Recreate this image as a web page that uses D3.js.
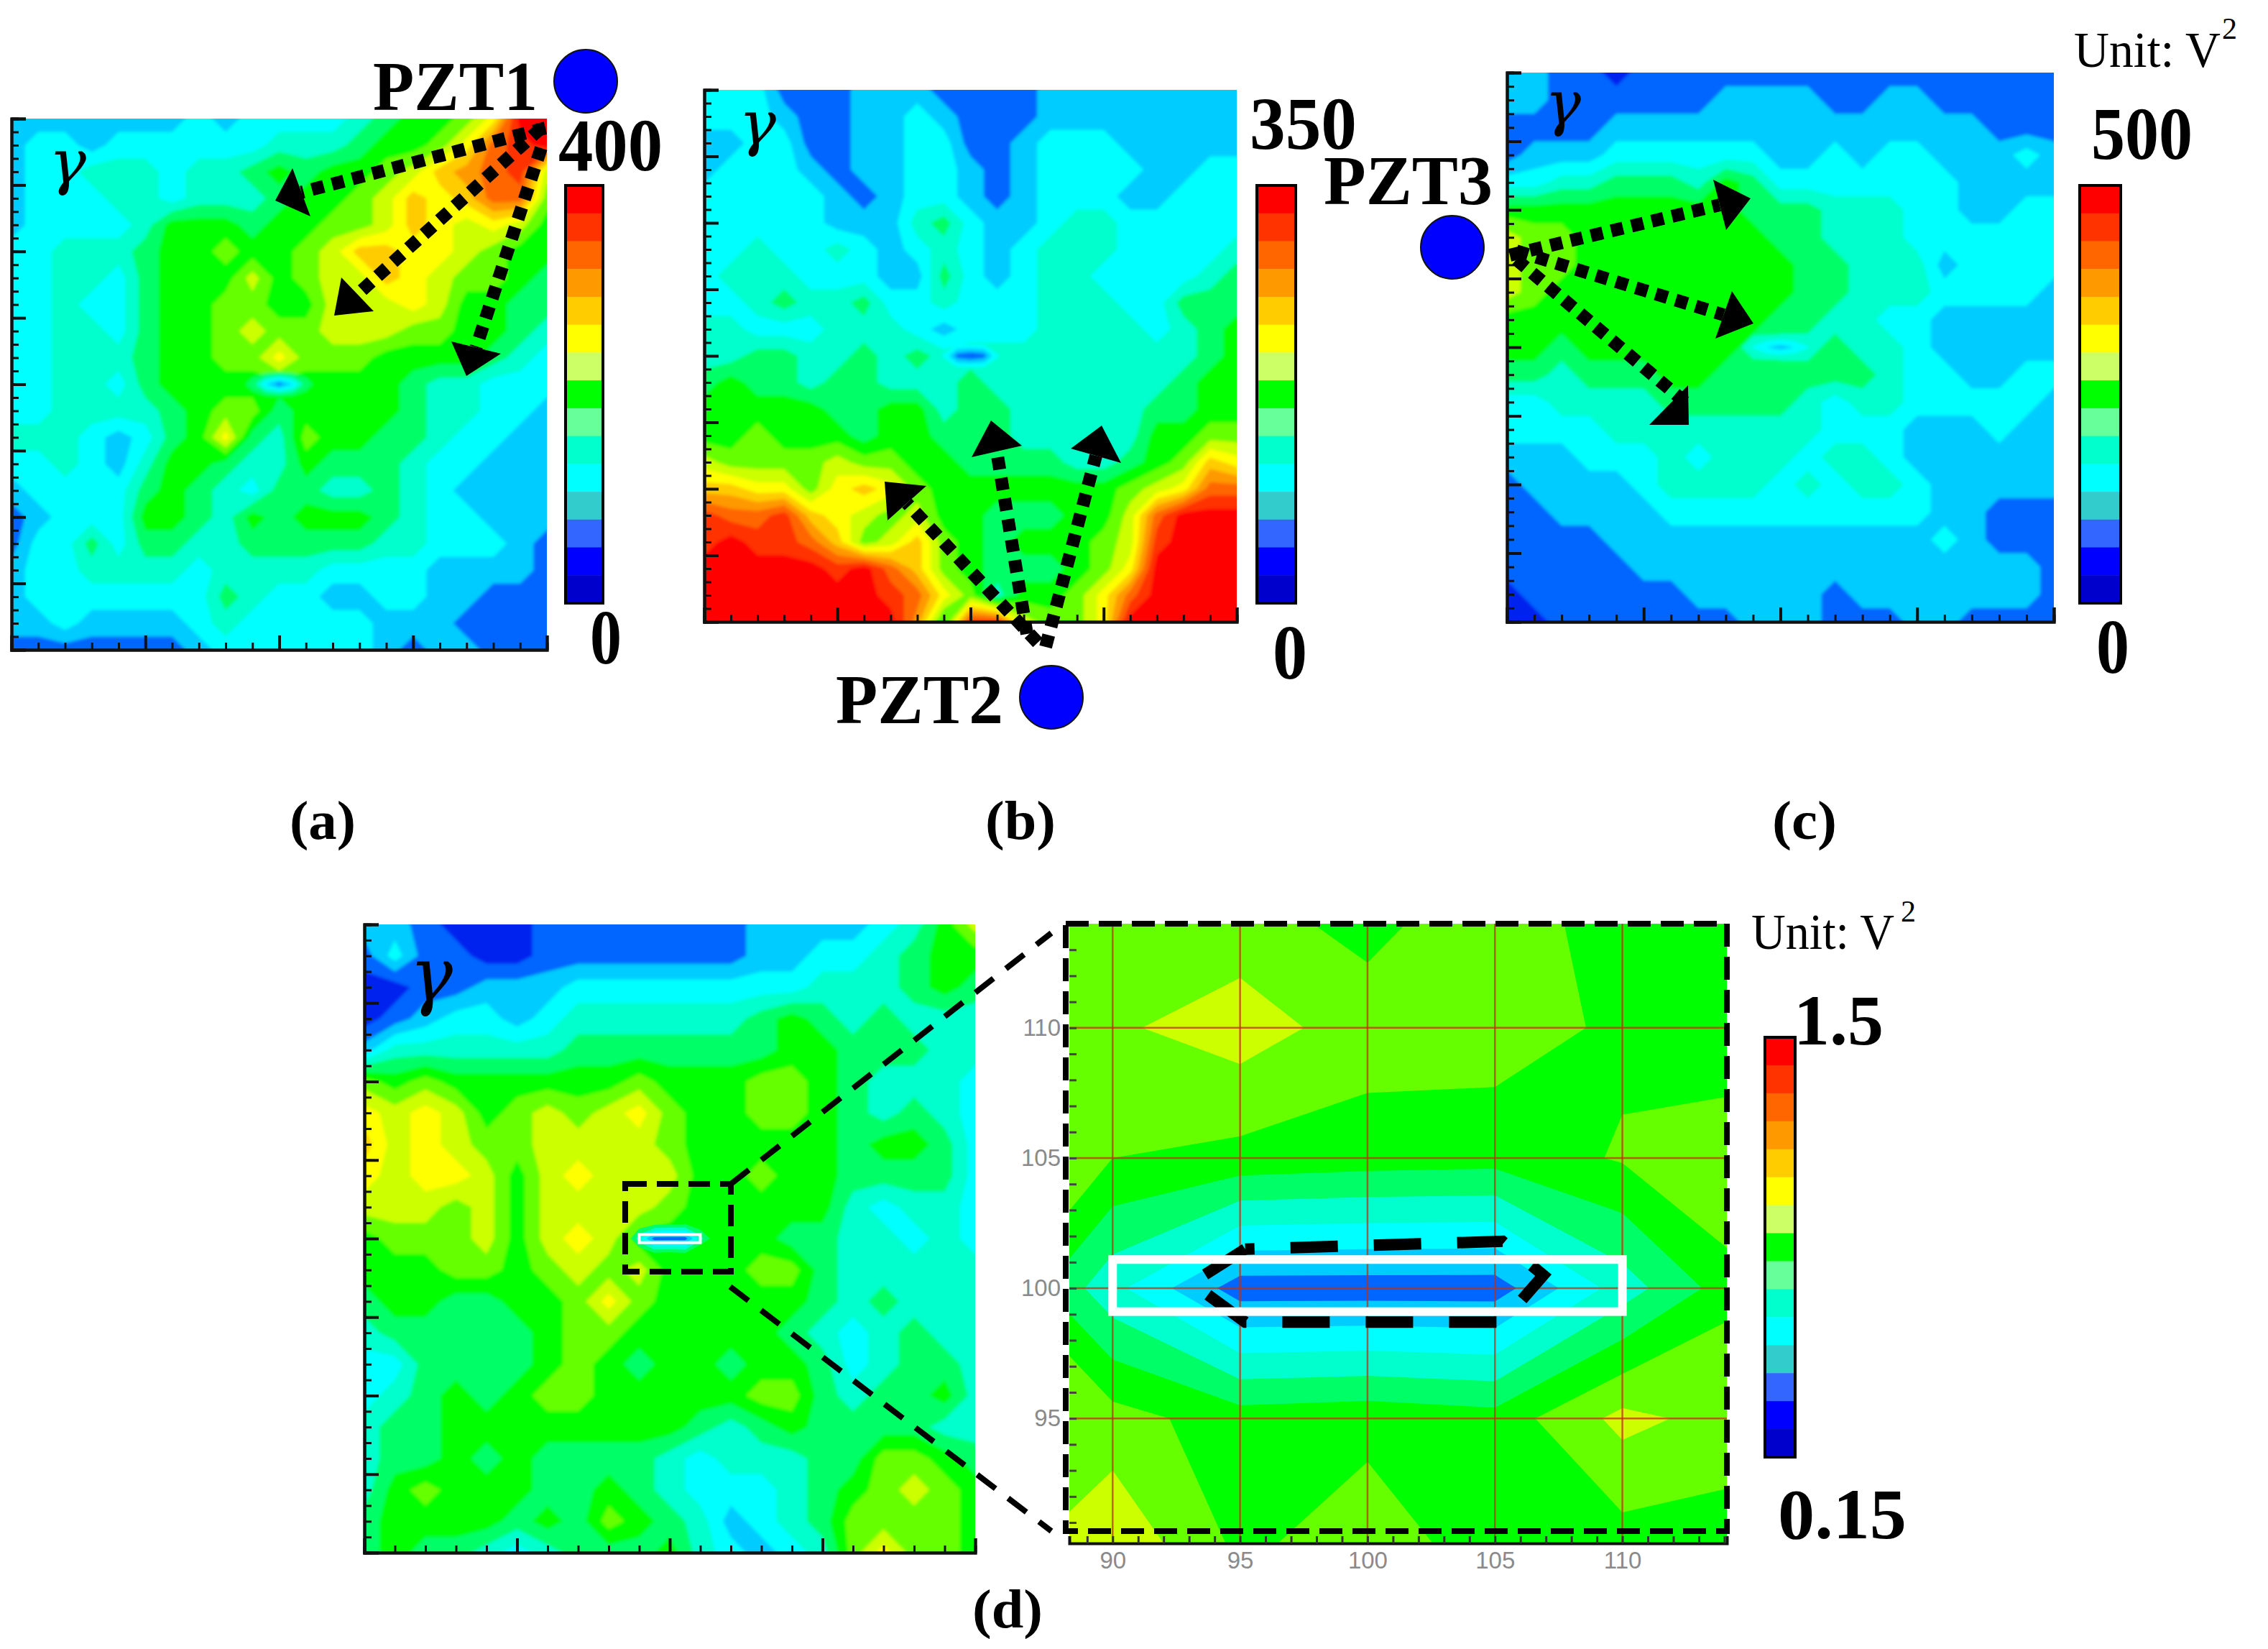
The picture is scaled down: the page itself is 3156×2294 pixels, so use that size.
<!DOCTYPE html>
<html>
<head>
<meta charset="utf-8">
<title>PZT power maps</title>
<script src="https://d3js.org/d3.v7.min.js"></script>
<style>
  body { margin: 0; background: #fff; }
  text { font-family: "Liberation Serif", serif; }
</style>
</head>
<body>
<script>
// contour band per node (0-14), nodes every 10 units, top row first
const fieldA = [
  [2,2,2,2,2,2,2,3,2,3,3,3,3,4,5,6,6,7,9,14,14],
  [2,3,3,2,3,3,3,3,3,3,4,4,4,5,6,6,7,9,12,13,14],
  [2,3,3,4,4,4,3,4,4,5,6,5,6,6,7,8,10,11,12,13,8],
  [2,3,3,3,4,4,3,4,4,4,5,6,6,7,8,10,9,10,12,12,7],
  [2,3,3,3,3,4,6,6,6,5,6,6,7,7,8,10,9,8,9,8,6],
  [3,3,4,4,4,5,6,6,7,6,6,7,8,10,10,9,9,8,7,6,6],
  [3,3,4,4,3,5,6,6,6,8,6,7,8,8,10,9,8,7,7,6,5],
  [3,3,4,3,3,5,6,6,7,7,6,6,8,8,8,9,8,6,6,5,5],
  [3,3,4,4,3,5,6,6,7,8,7,7,8,8,8,7,7,6,6,5,4],
  [3,3,4,4,4,5,6,6,7,7,9,7,7,7,6,6,6,6,5,4,3],
  [3,3,4,4,3,5,6,6,6,6,6,6,6,6,6,5,4,4,3,3,3],
  [3,3,4,4,4,4,5,6,7,7,5,6,6,6,6,5,4,4,3,3,2],
  [4,4,4,3,2,3,5,6,9,5,4,7,6,6,5,5,4,3,3,2,2],
  [3,3,4,3,2,4,6,6,5,4,4,6,5,5,5,4,3,3,2,2,2],
  [2,3,3,3,3,5,6,5,4,3,5,5,4,4,5,4,3,2,2,2,2],
  [1,2,3,3,3,6,6,5,4,6,5,6,6,6,5,4,3,3,2,2,2],
  [1,3,3,5,3,5,5,4,4,5,5,5,5,5,4,4,3,3,3,2,1],
  [2,3,3,4,4,4,4,3,4,4,4,4,3,3,3,3,2,2,2,2,1],
  [2,3,3,3,3,3,3,3,5,4,3,3,2,2,3,3,2,2,1,1,1],
  [2,2,3,2,2,2,2,3,4,3,3,3,3,3,2,2,2,1,1,1,1],
  [1,1,1,1,1,1,1,2,3,3,3,3,3,3,2,1,2,2,1,1,1]
];
const fieldB = [
  [3,3,3,1,1,1,2,2,2,1,1,1,1,2,2,2,2,2,2,2,2],
  [3,3,3,2,1,1,2,2,3,2,1,1,1,2,2,2,2,2,2,2,2],
  [2,2,3,3,1,1,2,2,3,3,1,1,2,3,3,3,2,2,2,2,2],
  [2,3,3,3,2,1,2,2,3,3,2,1,2,3,3,3,3,2,2,3,3],
  [3,3,3,3,3,2,1,2,3,3,2,1,2,3,3,3,2,2,3,3,3],
  [3,3,3,3,3,2,2,2,4,5,3,2,2,3,4,4,3,3,3,3,3],
  [3,3,4,3,3,4,3,2,3,4,3,2,3,4,4,4,3,3,3,3,4],
  [3,4,4,4,3,3,3,2,2,5,3,2,3,4,4,3,3,3,3,4,5],
  [3,3,4,5,4,4,5,3,3,4,3,3,3,4,4,4,3,3,5,5,5],
  [4,4,3,3,3,4,4,4,3,2,3,3,3,4,4,4,4,3,4,5,6],
  [4,4,5,5,4,4,5,4,5,4,4,4,4,4,4,4,4,4,4,5,6],
  [5,6,5,5,4,5,5,4,4,4,5,4,4,4,4,4,4,4,5,6,6],
  [6,6,6,6,6,5,5,6,6,4,5,5,4,4,4,4,4,5,5,6,6],
  [6,6,7,6,6,6,5,6,6,5,5,5,4,4,4,4,4,6,6,7,7],
  [8,7,7,7,7,8,7,7,6,6,5,5,5,5,4,4,5,6,7,10,9],
  [10,10,9,9,7,9,10,9,7,6,6,6,6,6,6,6,7,8,9,12,12],
  [13,12,12,13,10,9,8,7,8,6,6,5,5,5,6,6,8,12,14,14,14],
  [13,14,13,13,12,10,7,8,10,7,6,5,6,6,6,7,8,13,14,14,14],
  [14,14,14,14,14,13,14,12,10,7,6,5,5,5,6,7,9,14,14,14,14],
  [14,14,14,14,14,14,14,13,12,9,7,4,6,6,7,9,12,14,14,14,14],
  [14,14,14,14,14,14,14,14,11,6,13,13,8,7,7,9,14,14,14,14,14]
];
const fieldC = [
  [2,2,1,1,0,1,1,1,1,1,1,1,1,1,1,1,1,1,1,1,1],
  [2,2,1,1,1,1,1,1,2,2,2,2,1,1,2,2,1,1,1,1,1],
  [1,1,1,1,2,2,2,2,2,2,2,2,2,2,2,2,2,2,1,1,1],
  [1,2,2,2,3,3,3,3,3,3,2,2,3,2,3,3,2,2,2,3,2],
  [3,3,4,4,5,5,5,4,6,5,3,3,3,3,3,3,3,2,2,2,2],
  [6,6,6,6,6,6,6,6,6,5,5,5,4,4,4,3,3,2,2,3,3],
  [8,7,7,6,6,6,6,6,6,6,5,5,4,4,4,3,3,3,3,3,3],
  [8,7,7,6,6,6,6,6,6,6,6,5,5,4,4,4,2,3,3,3,3],
  [8,7,6,6,6,6,6,6,6,6,6,5,5,4,4,4,3,3,3,3,2],
  [6,6,6,6,6,6,6,6,6,6,5,5,4,4,3,3,2,2,2,2,2],
  [6,6,5,6,6,6,6,6,6,5,4,4,5,4,4,3,2,2,2,2,2],
  [5,5,4,5,5,5,6,6,5,5,5,5,5,5,4,3,3,2,2,3,3],
  [3,3,4,4,4,4,5,5,5,5,5,4,3,4,4,3,3,3,3,3,2],
  [3,3,3,3,4,4,4,4,4,4,4,4,3,3,3,2,2,2,3,2,2],
  [2,2,2,3,3,3,4,3,4,4,4,3,4,4,3,2,2,2,2,2,2],
  [1,2,2,2,2,3,4,4,4,4,3,4,3,4,4,3,2,2,2,2,2],
  [1,1,2,2,2,2,3,3,3,3,3,3,3,3,3,3,2,2,1,1,1],
  [1,1,1,1,2,2,2,2,2,2,2,2,2,2,2,2,3,2,1,1,1],
  [1,1,1,1,1,2,2,2,2,2,2,2,2,2,2,2,2,2,2,2,1],
  [0,1,1,1,1,1,1,2,2,2,2,2,1,2,2,2,2,2,2,2,1],
  [0,0,1,1,1,1,1,1,1,2,2,2,1,1,1,2,2,1,1,1,1]
];
const fieldD = [
  [2,2,1,0,0,0,1,1,1,1,1,1,1,2,2,2,2,3,4,6,8],
  [1,3,1,1,0,0,1,1,1,1,1,1,1,2,2,3,3,4,5,6,6],
  [0,0,1,1,2,2,2,3,3,3,3,3,3,3,3,4,4,4,5,6,5],
  [0,1,2,3,3,2,3,4,4,4,4,4,4,5,6,5,4,5,4,4,4],
  [2,4,4,4,4,4,4,5,5,5,5,5,5,5,6,6,5,5,5,4,4],
  [7,6,7,6,6,6,6,6,6,7,6,6,6,7,7,6,5,4,4,4,3],
  [9,8,9,8,6,7,8,7,8,9,7,6,6,7,7,6,5,4,5,4,3],
  [10,8,9,8,7,7,8,8,8,8,7,6,6,6,6,6,5,6,6,5,3],
  [9,8,9,9,8,6,8,9,8,8,8,6,6,7,6,6,5,5,5,5,3],
  [8,8,8,7,8,6,8,8,8,8,7,6,6,6,6,6,4,3,4,4,3],
  [6,7,7,7,8,6,8,9,8,6,6,6,6,6,5,5,4,4,3,4,3],
  [6,6,6,7,7,6,7,8,7,8,6,6,6,7,7,5,4,4,4,4,4],
  [5,6,6,5,5,6,6,7,9,7,6,6,6,6,6,5,4,5,4,4,4],
  [4,5,5,5,5,5,6,7,7,6,6,6,6,6,5,4,3,4,5,4,4],
  [3,3,5,5,5,5,6,7,6,5,6,6,5,6,6,5,3,4,5,5,4],
  [3,4,5,6,5,6,7,7,6,6,6,6,6,7,7,5,4,5,5,6,4],
  [4,5,5,6,6,6,6,6,6,6,6,5,4,5,6,5,5,5,5,4,4],
  [4,5,5,6,5,6,5,5,5,5,4,3,4,4,4,5,5,7,7,6,5],
  [4,6,7,6,6,6,5,5,6,5,4,3,3,3,4,5,6,7,8,7,6],
  [5,6,6,6,6,5,6,5,7,6,5,4,2,3,4,5,7,7,7,7,6],
  [5,6,5,5,4,3,4,5,5,5,6,4,3,2,3,4,7,9,7,7,6]
];

// nodes every 5 units round the crack, x 85..115
const crackA = [[6,6,6,6,6,6,6],[6,5,2.5,1,2.5,5,6],[6,6,6,6,6,6,6]];
const crackB = [[4,4,4,4,4,4,4],[4,3.4,1,0.6,1,3.4,4],[4,4,4,4,4,4,4]];
const crackC = [[4.7,4.7,4.7,4.7,4.7,4.7,4.7],[4.7,3.4,2.5,2,2.5,3.4,4.7],[4.7,4.7,4.7,4.7,4.7,4.7,4.7]];

// enlarged region of (d), x 85..115, y 115..90
const zoomField = [
  [7,7,6.7,6,7,6,6],
  [7,7.35,8,7,7,6.3,6],
  [7,6.5,6.2,6,5.9,6.6,7],
  [7,3.8,1,1,1,4,6.4],
  [7.5,6.9,6,6.2,5.9,7.8,7],
  [7,8.4,6.3,7.1,6,6,6]
];
const zoomTicks = [90, 95, 100, 105, 110];

const bandColors = ['#0022ee','#0066ff','#00ccff','#00ffff','#00ffcc','#00ff66','#00ff00','#66ff00',
                    '#ccff00','#ffff00','#ffcc00','#ff9900','#ff6600','#ff3300','#ff0000'];
const legendColors = ['#ff0000','#ff3300','#ff6600','#ff9900','#ffcc00','#ffff00','#ccff66','#00ff00',
                      '#66ff99','#00ffcc','#00ffff','#33cccc','#3366ff','#0000ff','#0000cc'];

const svg = d3.select('body').append('svg')
              .attr('width', 3156)
              .attr('height', 2294);

// the maps are a bit soft in the figure
svg.append('filter').attr('id', 'soft')
   .attr('x', 0).attr('y', 0).attr('width', 1).attr('height', 1)
   .append('feGaussianBlur').attr('stdDeviation', 2);

let clipCount = 0;

// fill one grid of bands, lowest first, each contour lies over the one before
function drawBands(g, values, x, y, xStart, yStart, step) {
    const rows = values.length;
    const cols = values[0].length;
    const toPlot = d3.geoTransform({
        point(px, py) {
            this.stream.point(x(xStart + (px - 0.5) * step), y(yStart - (py - 0.5) * step));
        }
    });
    const contours = d3.contours().size([cols, rows]).thresholds(d3.range(-1.5, 14, 1));
    g.selectAll(null)
     .data(contours(values.flat()))
     .enter()
     .append('path')
     .attr('d', d3.geoPath(toPlot))
     .attr('fill', d => bandColors[Math.max(0, d.value + 0.5)]);
}

// crack patch, only paints what lies below the surrounding band
function drawCrack(g, values, x, y, yStart, top) {
    const rows = values.length;
    const cols = values[0].length;
    const toPlot = d3.geoTransform({
        point(px, py) {
            this.stream.point(x(85 + (px - 0.5) * 5), y(yStart - (py - 0.5) * 5));
        }
    });
    const levels = d3.range(-top, 1, 1);
    const contours = d3.contours().size([cols, rows]).thresholds(levels);
    g.selectAll(null)
     .data(contours(values.flat().map(v => -v)))
     .enter()
     .append('path')
     .attr('d', d3.geoPath(toPlot))
     .attr('fill', d => bandColors[Math.max(0, -d.value - 0.5)]);
}

// one map with its inner ticks
function drawPanel(values, crack, crackTop, left, right, top, bottom) {
    const x = d3.scaleLinear().domain([0, 200]).range([left, right]);
    const y = d3.scaleLinear().domain([0, 200]).range([bottom, top]);
    const id = 'clip' + (clipCount++);

    svg.append('clipPath').attr('id', id)
       .append('rect')
       .attr('x', left).attr('y', top)
       .attr('width', right - left).attr('height', bottom - top);

    const g = svg.append('g').attr('clip-path', 'url(#' + id + ')')
                 .append('g').attr('filter', 'url(#soft)');
    drawBands(g, values, x, y, 0, 200, 10);
    if (crack) drawCrack(g, crack, x, y, 105, crackTop);

    // small ticks first, long ones above
    addTicks(d3.axisLeft(y).tickValues(d3.range(0, 201, 5)), left, 0, 10);
    addTicks(d3.axisLeft(y).tickValues(d3.range(0, 201, 25)), left, 0, 20);
    addTicks(d3.axisBottom(x).tickValues(d3.range(0, 201, 10)), 0, bottom, 10);
    addTicks(d3.axisBottom(x).tickValues(d3.range(0, 201, 50)), 0, bottom, 20);
    return {x, y};
}

function addTicks(axis, tx, ty, size) {
    const a = svg.append('g')
                 .attr('transform', 'translate(' + tx + ',' + ty + ')')
                 .call(axis.tickSize(-size).tickFormat(''));
    a.selectAll('line').attr('stroke', '#111').attr('stroke-width', size > 10 ? 4 : 3);
    a.select('.domain').attr('stroke', '#111').attr('stroke-width', 4);
}

function colorBar(left, right, top, bottom) {
    const band = d3.scaleBand().domain(d3.range(legendColors.length)).range([top, bottom]);
    svg.append('g').selectAll('rect')
       .data(legendColors)
       .enter()
       .append('rect')
       .attr('x', left)
       .attr('y', (d, i) => band(i))
       .attr('width', right - left)
       .attr('height', band.bandwidth() + 0.5)
       .attr('fill', d => d);
    svg.append('rect')
       .attr('x', left).attr('y', top)
       .attr('width', right - left).attr('height', bottom - top)
       .attr('fill', 'none')
       .attr('stroke', '#000')
       .attr('stroke-width', 4);
}

// serif label squeezed to the width it has in the figure
function label(text, x, y, size, width, weight) {
    svg.append('text')
       .attr('x', x)
       .attr('y', y)
       .attr('textLength', width)
       .attr('lengthAdjust', 'spacingAndGlyphs')
       .style('font-size', size + 'px')
       .style('font-weight', weight || 'bold')
       .text(text);
}

function gamma(x, y, size, width) {
    svg.append('text')
       .attr('x', x)
       .attr('y', y)
       .attr('textLength', width)
       .attr('lengthAdjust', 'spacingAndGlyphs')
       .style('font-family', '"DejaVu Serif", serif')
       .style('font-size', size + 'px')
       .style('font-style', 'italic')
       .text('γ');
}

function sensor(cx, cy) {
    svg.append('circle')
       .attr('cx', cx).attr('cy', cy).attr('r', 44)
       .attr('fill', '#0000ff')
       .attr('stroke', '#111')
       .attr('stroke-width', 2);
}

// dotted shaft up to the base of a solid head
function arrow(x0, y0, head) {
    svg.append('line')
       .attr('x1', x0).attr('y1', y0)
       .attr('x2', (head[1][0] + head[2][0]) / 2)
       .attr('y2', (head[1][1] + head[2][1]) / 2)
       .attr('stroke', '#000')
       .attr('stroke-width', 18)
       .attr('stroke-dasharray', '17,12');
    svg.append('polygon')
       .attr('points', head.map(p => p.join(',')).join(' '))
       .attr('fill', '#000');
}

// (a)
drawPanel(fieldA, crackA, 5.5, 16, 761, 165, 904);
colorBar(787, 839, 258, 839);
gamma(68, 254, 84, 52);
sensor(815, 113);
label('PZT1', 519, 153, 98, 229);
label('400', 777, 237, 104, 145);
label('0', 821, 923, 108, 44);
arrow(759, 178, [[383, 279], [407, 234], [432, 301]]);
arrow(753, 178, [[465, 439], [475, 386], [520, 433]]);
arrow(753, 206, [[649, 523], [628, 475], [697, 492]]);
label('(a)', 403, 1167, 76, 92);

// (b)
drawPanel(fieldB, crackB, 3.5, 980, 1721, 125, 865);
colorBar(1749, 1803, 258, 839);
gamma(1028, 200, 84, 52);
sensor(1463, 970);
label('PZT2', 1163, 1006, 98, 233);
label('350', 1739, 207, 104, 149);
label('0', 1771, 944, 108, 48);
arrow(1444, 894, [[1231, 670], [1289, 676], [1235, 724]]);
arrow(1429, 882, [[1379, 585], [1352, 636], [1422, 620]]);
arrow(1455, 900, [[1533, 592], [1490, 624], [1560, 644]]);
label('(b)', 1371, 1167, 76, 98);

// (c)
drawPanel(fieldC, crackC, 4.5, 2097, 2858, 101, 865);
colorBar(2894, 2951, 258, 839);
gamma(2150, 172, 84, 50);
sensor(2021, 344);
label('PZT3', 1842, 284, 98, 235);
label('500', 2910, 221, 104, 141);
label('0', 2917, 936, 108, 46);
arrow(2101, 355, [[2436, 276], [2384, 250], [2402, 320]]);
arrow(2110, 349, [[2440, 450], [2410, 405], [2387, 471]]);
arrow(2110, 361, [[2295, 591], [2349, 536], [2350, 591]]);
label('(c)', 2466, 1167, 76, 90);
label('Unit: V', 2886, 93, 70, 204, 'normal');
label('2', 3092, 54, 42, 21, 'normal');

// (d), small rectangle marks the region enlarged on the right
const mapD = drawPanel(fieldD, null, 0, 507, 1357, 1286, 2160);
const gCrack = svg.append('g');
drawCrack(gCrack, zoomField.slice(2, 5), mapD.x, mapD.y, 105, 5.5);
svg.append('rect')
   .attr('x', mapD.x(90)).attr('y', mapD.y(101.3))
   .attr('width', mapD.x(110) - mapD.x(90))
   .attr('height', mapD.y(98.7) - mapD.y(101.3))
   .attr('fill', 'none')
   .attr('stroke', '#fff')
   .attr('stroke-width', 4);
gamma(570, 1392, 104, 60);
svg.append('rect')
   .attr('x', 870).attr('y', 1647).attr('width', 147).attr('height', 122)
   .attr('fill', 'none')
   .attr('stroke', '#000')
   .attr('stroke-width', 8)
   .attr('stroke-dasharray', '30,14');
svg.append('line')
   .attr('x1', 1017).attr('y1', 1647).attr('x2', 1463).attr('y2', 1298)
   .attr('stroke', '#000').attr('stroke-width', 8).attr('stroke-dasharray', '32,22');
svg.append('line')
   .attr('x1', 1016).attr('y1', 1790).attr('x2', 1463).attr('y2', 2130)
   .attr('stroke', '#000').attr('stroke-width', 8).attr('stroke-dasharray', '32,22');
label('(d)', 1353, 2264, 76, 98);

// enlarged view
const zx = d3.scaleLinear().domain([88.3, 114.1]).range([1488, 2403]);
const zy = d3.scaleLinear().domain([90.2, 114]).range([2147, 1285]);

svg.append('clipPath').attr('id', 'clipZoom')
   .append('rect')
   .attr('x', 1488).attr('y', 1285)
   .attr('width', 915).attr('height', 862);

const gZoom = svg.append('g').attr('clip-path', 'url(#clipZoom)');
drawBands(gZoom, zoomField, zx, zy, 85, 115, 5);

// red grid
gZoom.selectAll('line.gridX')
     .data(zoomTicks)
     .enter()
     .append('line')
     .attr('class', 'gridX')
     .attr('x1', d => zx(d)).attr('x2', d => zx(d))
     .attr('y1', 1285).attr('y2', 2147)
     .attr('stroke', '#c03010')
     .attr('stroke-opacity', 0.75)
     .attr('stroke-width', 2.5);
gZoom.selectAll('line.gridY')
     .data(zoomTicks.slice(1))
     .enter()
     .append('line')
     .attr('class', 'gridY')
     .attr('x1', 1488).attr('x2', 2403)
     .attr('y1', d => zy(d)).attr('y2', d => zy(d))
     .attr('stroke', '#c03010')
     .attr('stroke-opacity', 0.75)
     .attr('stroke-width', 2.5);

// crack outline under the white box
svg.append('path')
   .attr('d', d3.line().x(d => zx(d[0])).y(d => zy(d[1]))([
       [95.2, 101.5], [93.1, 100.2], [95.2, 98.7], [105.3, 98.7], [106.9, 100.5], [105.3, 101.8], [95.2, 101.5]
   ]))
   .attr('fill', 'none')
   .attr('stroke', '#000')
   .attr('stroke-width', 16)
   .attr('stroke-dasharray', '66,50');
svg.append('rect')
   .attr('x', zx(90)).attr('y', zy(101.1))
   .attr('width', zx(110) - zx(90))
   .attr('height', zy(99.1) - zy(101.1))
   .attr('fill', 'none')
   .attr('stroke', '#fff')
   .attr('stroke-width', 12);

addZoomAxes();
function addZoomAxes() {
    const minorY = svg.append('g').attr('transform', 'translate(1488,0)')
                      .call(d3.axisLeft(zy).tickValues(d3.range(91, 114)).tickSize(-10).tickFormat(''));
    minorY.selectAll('line').attr('stroke', '#444').attr('stroke-width', 3);
    minorY.select('.domain').remove();
    const minorX = svg.append('g').attr('transform', 'translate(0,2147)')
                      .call(d3.axisBottom(zx).tickValues(d3.range(89, 115)).tickSize(-10).tickFormat(''));
    minorX.selectAll('line').attr('stroke', '#333').attr('stroke-width', 3);
    minorX.select('.domain').attr('stroke', '#111').attr('stroke-width', 4);

    const majorY = svg.append('g').attr('transform', 'translate(1488,0)')
                      .call(d3.axisLeft(zy).tickValues(zoomTicks.slice(1)).tickSize(0).tickPadding(12));
    majorY.select('.domain').remove();
    const majorX = svg.append('g').attr('transform', 'translate(0,2147)')
                      .call(d3.axisBottom(zx).tickValues(zoomTicks).tickSize(0).tickPadding(12));
    majorX.select('.domain').remove();
    svg.selectAll('g.tick text')
       .style('font-family', '"Liberation Sans", sans-serif')
       .style('font-size', '33px')
       .attr('fill', '#8a8a8a');
}

// dashed frame on top of the enlarged view
svg.append('rect')
   .attr('x', 1483).attr('y', 1285).attr('width', 920).attr('height', 845)
   .attr('fill', 'none')
   .attr('stroke', '#000')
   .attr('stroke-width', 8)
   .attr('stroke-dasharray', '32,14');

colorBar(2456, 2498, 1443, 2027);
label('Unit: V', 2437, 1320, 70, 199, 'normal');
label('2', 2645, 1282, 42, 21, 'normal');
label('1.5', 2496, 1453, 100, 125);
label('0.15', 2474, 2140, 100, 179);
</script>
</body>
</html>
